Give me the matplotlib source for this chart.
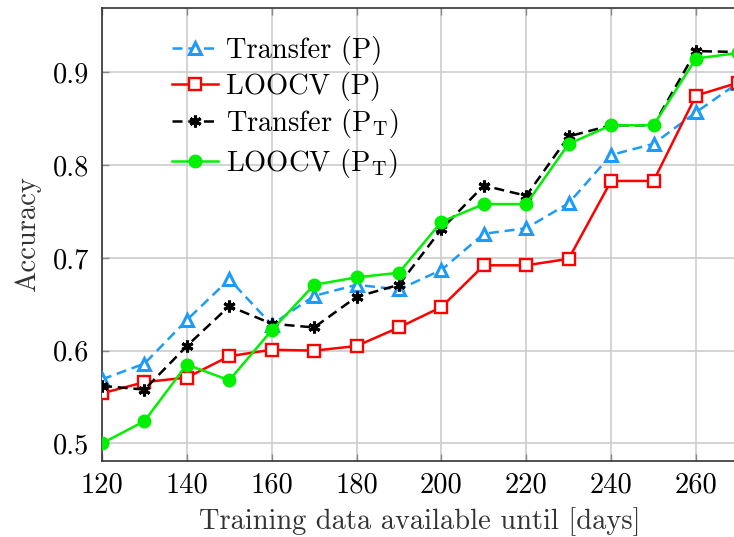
import matplotlib
matplotlib.use("Agg")
import matplotlib.pyplot as plt

plt.rcParams['font.family'] = ['cmr10', 'DejaVu Serif']
plt.rcParams['mathtext.fontset'] = 'cm'
plt.rcParams['axes.unicode_minus'] = False
plt.rcParams['axes.formatter.use_mathtext'] = True

days = [120, 130, 140, 150, 160, 170, 180, 190, 200, 210, 220, 230, 240, 250, 260, 270]

transfer_p = [0.569, 0.586, 0.633, 0.677, 0.628, 0.659, 0.671, 0.666, 0.687,
              0.726, 0.732, 0.759, 0.811, 0.823, 0.857, 0.889]
loocv_p = [0.554, 0.566, 0.571, 0.594, 0.601, 0.600, 0.605, 0.625, 0.647,
           0.692, 0.692, 0.699, 0.783, 0.783, 0.875, 0.889]
transfer_pt = [0.562, 0.558, 0.605, 0.648, 0.629, 0.625, 0.658, 0.671, 0.731,
               0.778, 0.767, 0.831, 0.843, 0.843, 0.923, 0.922]
loocv_pt = [0.500, 0.524, 0.585, 0.568, 0.622, 0.671, 0.679, 0.684, 0.739,
            0.758, 0.758, 0.823, 0.843, 0.843, 0.915, 0.921]

x_ticks = [120, 140, 160, 180, 200, 220, 240, 260]
y_ticks = [0.5, 0.6, 0.7, 0.8, 0.9]

W, H = 734, 537
fig = plt.figure(figsize=(W / 100, H / 100), dpi=100)
ax = fig.add_axes([102 / W, 1 - 461 / H, (738.4 - 102) / W, (461 - 7.5) / H])

blue = '#1e9bf8'
red = '#ff0000'
green = '#00f000'
LW = 1.8
DASH = (4.0, 2.3)

ax.plot(days, transfer_p, color=blue, lw=LW, dashes=DASH,
        marker='^', ms=8, mfc='white', mec=blue, mew=2.2, label='Transfer (P)', zorder=3)
ax.plot(days, loocv_p, color=red, lw=LW,
        marker='s', ms=8, mfc='white', mec=red, mew=1.7, label='LOOCV (P)', zorder=4)
ax.plot(days, transfer_pt, color='black', lw=LW, dashes=DASH,
        marker=(6, 2, 0), ms=8.5, mec='black', mew=2.2, label=r'Transfer (P$_{\mathrm{T}}$)', zorder=5)
ax.plot(days, loocv_pt, color=green, lw=LW,
        marker='o', ms=9, mfc=green, mec=green, label=r'LOOCV (P$_{\mathrm{T}}$)', zorder=6)

ax.set_xlim(120, 270)
ax.set_ylim(0.481, 0.970)
ax.set_xticks(x_ticks)
ax.set_yticks(y_ticks)
ax.set_xticklabels([str(t) for t in x_ticks])
ax.set_yticklabels([f'{t:.1f}' for t in y_ticks])

ax.grid(True, color='#cccccc', lw=1.2)
ax.set_axisbelow(True)
ax.tick_params(direction='in', length=5, width=1, color='#888888',
               labelsize=20.5, top=True, right=False)
ax.tick_params(axis='x', pad=8)
ax.tick_params(axis='y', pad=9)
for side in ['left', 'bottom', 'top']:
    ax.spines[side].set_color('#333333')
    ax.spines[side].set_linewidth(1.2)
ax.spines['right'].set_visible(False)

ax.set_xlabel('Training data available until [days]', fontsize=20.5, color='#333333', labelpad=6)
ax.set_ylabel('Accuracy', fontsize=20.5, color='#333333', labelpad=9)

leg = ax.legend(loc='upper left', bbox_to_anchor=(172 / W, 1 - 36 / H),
                bbox_transform=fig.transFigure, frameon=False, fontsize=20.5,
                handlelength=1.6, handletextpad=0.3, labelspacing=0.23,
                borderaxespad=0, borderpad=0)

fig.savefig('out.png', dpi=100)
